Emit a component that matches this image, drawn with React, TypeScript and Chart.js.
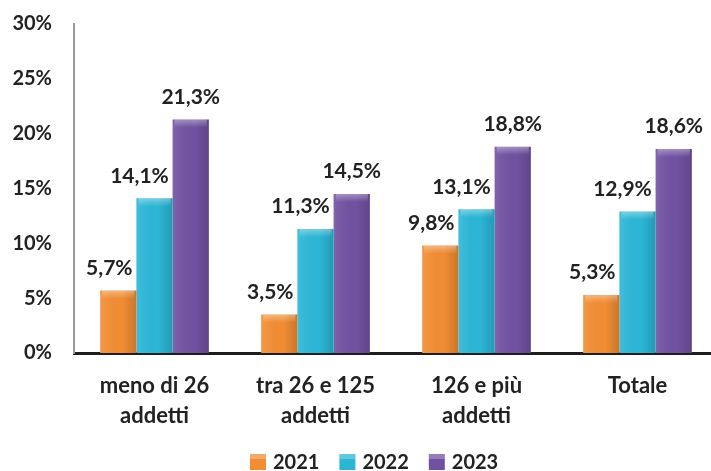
import React, { useEffect, useRef } from "react";
import { Chart, registerables } from "chart.js";

Chart.register(...registerables);

const categories: string[][] = [
  ["meno di 26", "addetti"],
  ["tra 26 e 125", "addetti"],
  ["126 e più", "addetti"],
  ["Totale"],
];
const seriesNames = ["2021", "2022", "2023"];
const values2021 = [5.7, 3.5, 9.8, 5.3];
const values2022 = [14.1, 11.3, 13.1, 12.9];
const values2023 = [21.3, 14.5, 18.8, 18.6];
const yTicks = [0, 5, 10, 15, 20, 25, 30];

const colors = ["#F18D34", "#2CB6D6", "#7152A2"];
const labelShift = [-9, -15, 0];
const FONT = "Lato, 'Open Sans', sans-serif";

const fmt = (v: number) => v.toFixed(1).replace(".", ",") + "%";

const barDecor = {
  id: "barDecor",
  afterDatasetsDraw(chart: any) {
    const ctx = chart.ctx;
    chart.data.datasets.forEach((ds: any, di: number) => {
      const meta = chart.getDatasetMeta(di);
      meta.data.forEach((el: any, i: number) => {
        const { x, y, base, width } = el.getProps(["x", "y", "base", "width"], true);
        const l = x - width / 2;
        const g = ctx.createLinearGradient(l, 0, l + width, 0);
        g.addColorStop(0, "rgba(255,255,255,0.10)");
        g.addColorStop(0.15, "rgba(255,255,255,0.05)");
        g.addColorStop(0.6, "rgba(0,0,0,0)");
        g.addColorStop(1, "rgba(0,0,0,0.16)");
        ctx.save();
        ctx.fillStyle = g;
        ctx.fillRect(l, y, width, base - y);
        const t = ctx.createLinearGradient(0, y, 0, y + 8);
        t.addColorStop(0, "rgba(255,255,255,0.35)");
        t.addColorStop(1, "rgba(255,255,255,0)");
        ctx.fillStyle = t;
        ctx.fillRect(l + 2, y, width - 4, 8);
        ctx.fillStyle = "#222";
        ctx.font = `bold 21px ${FONT}`;
        ctx.textAlign = "center";
        ctx.textBaseline = "bottom";
        ctx.fillText(fmt(ds.data[i]), x + labelShift[di], y - 12);
        ctx.restore();
      });
    });
  },
};

const customLegend = {
  id: "customLegend",
  afterDraw(chart: any) {
    const ctx = chart.ctx;
    ctx.save();
    ctx.font = `bold 20px ${FONT}`;
    ctx.textBaseline = "middle";
    ctx.textAlign = "left";
    const cy = 462;
    let x = 250;
    chart.data.datasets.forEach((ds: any, di: number) => {
      ctx.fillStyle = colors[di];
      ctx.fillRect(x, cy - 8, 16, 16);
      ctx.fillStyle = "rgba(255,255,255,0.25)";
      ctx.fillRect(x, cy - 8, 16, 5);
      ctx.fillStyle = "#222";
      ctx.fillText(ds.label, x + 23, cy + 1);
      const w = ctx.measureText(ds.label).width;
      x += 23 + w + 20;
    });
    ctx.restore();
  },
};

export default function App() {
  const ref = useRef<HTMLCanvasElement | null>(null);
  useEffect(() => {
    document.body.style.margin = "0";
    const chart = new Chart(ref.current as HTMLCanvasElement, {
      type: "bar",
      data: {
        labels: categories,
        datasets: [values2021, values2022, values2023].map((d, i) => ({
          label: seriesNames[i],
          data: d,
          backgroundColor: colors[i],
          borderWidth: 0,
          categoryPercentage: 0.675,
          barPercentage: 1.0,
        })),
      },
      options: {
        responsive: false,
        animation: false,
        layout: { padding: { top: 24, right: 0, bottom: 0, left: 0 } },
        plugins: { legend: { display: false }, tooltip: { enabled: false } },
        scales: {
          x: {
            grid: { display: false, drawTicks: false },
            border: { display: true, color: "#1e1e1e", width: 3 },
            ticks: {
              color: "#222",
              font: { family: FONT, size: 22, weight: "bold", lineHeight: 1.36 },
              padding: 18,
              maxRotation: 0,
              autoSkip: false,
            },
            afterFit: (s: any) => {
              s.height = 118;
              s.paddingLeft = 0;
              s.paddingRight = 0;
            },
          },
          y: {
            min: 0,
            max: 30,
            afterBuildTicks: (s: any) => {
              s.ticks = yTicks.map((v) => ({ value: v }));
            },
            grid: { display: false, drawTicks: false },
            border: { display: true, color: "#9a9a9a", width: 2 },
            ticks: {
              color: "#222",
              font: { family: FONT, size: 20, weight: "bold" },
              padding: 22,
              callback: (v: any) => v + "%",
            },
            afterFit: (s: any) => {
              s.width = 74;
              s.paddingTop = 0;
              s.paddingBottom = 0;
            },
          },
        },
      },
      plugins: [barDecor, customLegend],
    });
    return () => chart.destroy();
  }, []);
  return (
    <div style={{ width: 711, height: 471, overflow: "hidden", background: "#fff" }}>
      <canvas ref={ref} width={718} height={471} style={{ display: "block" }} />
    </div>
  );
}
